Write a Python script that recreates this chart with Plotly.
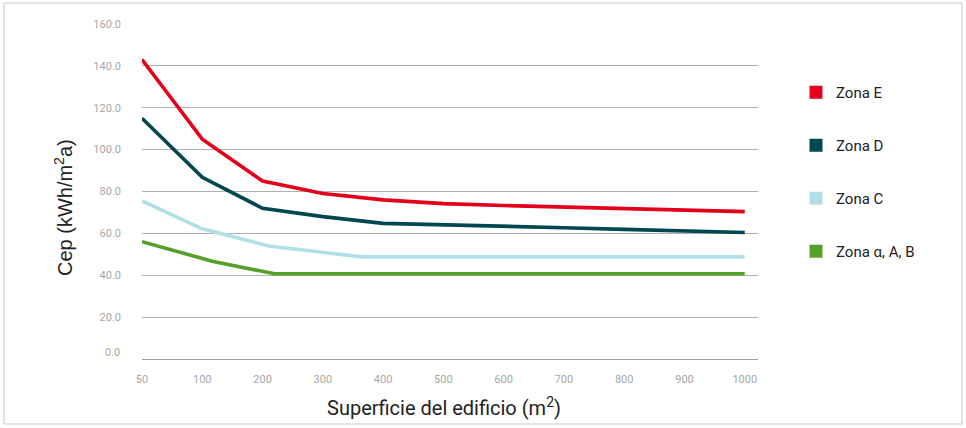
import plotly.graph_objects as go

# ---- data ----
tick_labels = [50, 100, 200, 300, 400, 500, 600, 700, 800, 900, 1000]
y_ticks = [20, 40, 60, 80, 100, 120, 140, 160]

zona_e_x = [50, 100, 200, 300, 400, 500, 600, 700, 800, 900, 1000]
zona_e_y = [143, 105, 85, 79, 76, 74.2, 73.3, 72.5, 71.8, 71.1, 70.4]

zona_d_x = [50, 100, 200, 300, 400, 500, 600, 700, 800, 900, 1000]
zona_d_y = [115, 86.8, 72, 68, 64.8, 64.2, 63.5, 62.7, 61.9, 61.2, 60.4]

zona_c_x = [50, 100, 210, 364, 1000]
zona_c_y = [75.5, 62.2, 54, 48.8, 48.8]

zona_ab_x = [50, 118, 220, 1000]
zona_ab_y = [56, 46.6, 40.7, 40.7]

names = ["Zona E", "Zona D", "Zona C", "Zona \u03b1, A, B"]
colors = ["#e2001a", "#00474f", "#b0e0e6", "#55a02b"]


def pos(m2):
    # axis is evenly spaced by label: 50 -> 0, 100 -> 1, 200 -> 2, ... 1000 -> 10
    return (m2 - 50) / 50 if m2 <= 100 else m2 / 100


W, H = 966, 428
L, R, T, B = 142, 208, 24, 69
pw, ph = W - L - R, H - T - B
base = T + ph  # pixel row of y=0

fig = go.Figure()
series = [(zona_e_x, zona_e_y), (zona_d_x, zona_d_y), (zona_c_x, zona_c_y), (zona_ab_x, zona_ab_y)]
for (xs, ys), c in zip(series, colors):
    fig.add_trace(go.Scatter(x=[pos(v) for v in xs], y=ys, mode="lines",
                             line=dict(color=c, width=3.6), showlegend=False,
                             hoverinfo="skip"))
for i, (n, c) in enumerate(zip(names, colors)):
    fig.add_trace(go.Scatter(x=[None], y=[None], mode="markers", name=n,
                             legendgroup=str(i),
                             marker=dict(symbol="square", size=13, color=c)))

ticks_font = dict(family="Roboto", size=11, color="#a6a6a6")

fig.update_layout(
    width=W, height=H,
    margin=dict(l=L, r=R, t=T, b=B),
    paper_bgcolor="white", plot_bgcolor="white",
    xaxis=dict(range=[0, 10.22], tickvals=[pos(v) for v in tick_labels],
               ticktext=[str(v) for v in tick_labels], showgrid=False,
               zeroline=False, showline=True, linecolor="#a0a0a0", linewidth=1,
               tickfont=ticks_font, ticks="", ticklabelstandoff=10,
               fixedrange=True),
    yaxis=dict(range=[0, 160], tickvals=y_ticks,
               ticktext=[f"{v:.1f}" for v in y_ticks],
               showgrid=True, gridcolor="#b0b0b0", gridwidth=1, zeroline=False,
               tickfont=ticks_font, ticks="", ticklabelstandoff=20,
               fixedrange=True),
    legend=dict(x=(796 - L) / pw, y=(base - 76) / ph, xanchor="left", yanchor="top",
                font=dict(family="Roboto", size=15, color="#222"),
                tracegroupgap=30.5, bgcolor="rgba(0,0,0,0)"),
    annotations=[
        dict(text="0.0", x=0, y=0, xref="paper", yref="y",
             xanchor="right", yanchor="middle", xshift=-20, yshift=7,
             showarrow=False, font=ticks_font),
        dict(text="Superficie del edificio (m<sup>2</sup>)",
             x=(444 - L) / pw, y=(base - 407) / ph, xref="paper", yref="paper",
             xanchor="center", yanchor="middle", showarrow=False,
             font=dict(family="Roboto", size=20, color="#222")),
        dict(text="Cep (kWh/m<sup>2</sup>a)", textangle=-90,
             x=(63 - L) / pw, y=(base - 208) / ph, xref="paper", yref="paper",
             xanchor="center", yanchor="middle", showarrow=False,
             font=dict(family="Liberation Sans", size=20, color="#222")),
    ],
    shapes=[dict(type="rect", xref="paper", yref="paper",
                 x0=(4 - L) / pw, x1=(962 - L) / pw,
                 y0=(base - 424) / ph, y1=(base - 3) / ph,
                 line=dict(color="#c8c8c8", width=1), layer="below")],
)

fig.write_html("out.html", config={"displayModeBar": False},
               post_script="document.body.style.margin='0';document.body.style.padding='0';")
